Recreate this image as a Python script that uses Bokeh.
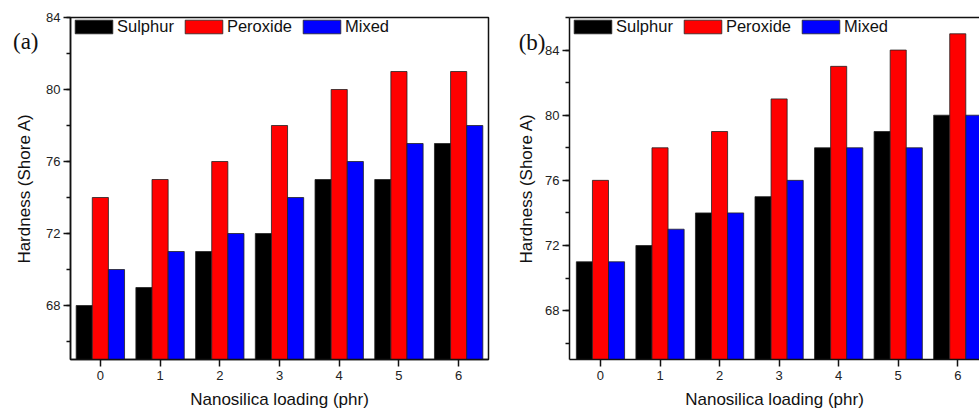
from bokeh.plotting import figure
from bokeh.layouts import row
from bokeh.models import (Range1d, FixedTicker, SingleIntervalTicker, Legend,
                          LegendItem, LinearAxis)
from bokeh.embed import file_html
from bokeh.resources import INLINE

# Nanosilica loading (phr)
loading = [0, 1, 2, 3, 4, 5, 6]

# (a) hardness, Shore A
sulphur_a = [68, 69, 71, 72, 75, 75, 77]
peroxide_a = [74, 75, 76, 78, 80, 81, 81]
mixed_a = [70, 71, 72, 74, 76, 77, 78]

# (b) hardness, Shore A
sulphur_b = [71, 72, 74, 75, 78, 79, 80]
peroxide_b = [76, 78, 79, 81, 83, 84, 85]
mixed_b = [71, 73, 74, 76, 78, 78, 80]

series_names = ["Sulphur", "Peroxide", "Mixed"]
series_colors = ["#000000", "#ff0000", "#0000ff"]

FONT = "Liberation Sans"
BAR_W = 0.27


def make_panel(width, border_left, border_right, x_rng, y_rng, data, tag,
               tag_y, tag_standoff, ylabel_standoff, full_box):
    p = figure(width=width, height=412, output_backend="svg",
               toolbar_location=None, x_range=Range1d(*x_rng),
               y_range=Range1d(*y_rng), min_border_left=border_left,
               min_border_right=border_right, min_border_top=17,
               min_border_bottom=53)
    p.background_fill_color = "white"
    p.border_fill_color = "white"
    p.xgrid.grid_line_color = None
    p.ygrid.grid_line_color = None
    p.outline_line_color = "#111111" if full_box else None
    p.outline_line_width = 1.5

    items = []
    for k, (vals, name, col) in enumerate(zip(data, series_names,
                                              series_colors)):
        xs = [x + (k - 1) * BAR_W for x in loading]
        r = p.vbar(x=xs, top=vals, bottom=y_rng[0], width=BAR_W,
                   fill_color=col, line_color="#222222", line_width=0.8)
        items.append(LegendItem(label=name, renderers=[r]))

    leg = Legend(items=items, location="top_left", orientation="horizontal",
                 border_line_color=None, background_fill_alpha=0,
                 glyph_width=47, glyph_height=17, label_standoff=0,
                 spacing=6, padding=0, margin=0,
                 label_text_font=FONT, label_text_font_size="16.5px",
                 label_text_color="#111111")
    p.add_layout(leg)

    p.xaxis.ticker = FixedTicker(ticks=loading)
    p.yaxis.ticker = SingleIntervalTicker(interval=4, num_minor_ticks=2)
    for ax in (p.xaxis, p.yaxis):
        ax.axis_line_width = 1.5
        ax.axis_line_color = "#111111"
        ax.major_tick_in = 0
        ax.major_tick_out = 7
        ax.major_tick_line_width = 1.5
        ax.major_tick_line_color = "#111111"
        ax.major_label_text_font = FONT
        ax.major_label_text_font_size = "13px"
        ax.major_label_text_color = "#222222"
        ax.axis_label_text_font = FONT
        ax.axis_label_text_font_size = "17px"
        ax.axis_label_text_font_style = "normal"
        ax.axis_label_text_color = "#111111"
    p.xaxis.minor_tick_line_color = None
    p.yaxis.minor_tick_in = 0
    p.yaxis.minor_tick_out = 4
    p.yaxis.minor_tick_line_width = 1.5
    p.yaxis.minor_tick_line_color = "#111111"
    p.xaxis.major_label_standoff = 4
    p.xaxis.axis_label_standoff = 7
    p.yaxis.major_label_standoff = 3
    p.xaxis.axis_label = "Nanosilica loading (phr)"

    # outer left axis: carries the panel tag as its only tick label and
    # the y-axis title
    outer = LinearAxis(axis_line_color=None, major_tick_line_color=None,
                       minor_tick_line_color=None,
                       ticker=FixedTicker(ticks=[tag_y]),
                       major_label_overrides={tag_y: tag},
                       major_label_standoff=tag_standoff,
                       major_label_text_font="Liberation Serif",
                       major_label_text_font_size="23px",
                       major_label_text_color="#111111",
                       axis_label="Hardness (Shore A)",
                       axis_label_standoff=ylabel_standoff,
                       axis_label_text_font=FONT,
                       axis_label_text_font_size="17px",
                       axis_label_text_font_style="normal",
                       axis_label_text_color="#111111")
    p.add_layout(outer, "left")

    if not full_box:
        top = LinearAxis(axis_line_width=1.5, axis_line_color="#111111",
                         major_tick_line_color=None,
                         minor_tick_line_color=None,
                         major_label_text_font_size="0px")
        top.ticker = FixedTicker(ticks=[])
        p.add_layout(top, "above")
    return p


pa = make_panel(500, 70, 12, (-0.5, 6.5), (65, 84),
                [sulphur_a, peroxide_a, mixed_a], "(a)", 82.67, -1, -24, True)
pb = make_panel(479, 69, 0, (-0.52, 6.365), (65, 86),
                [sulphur_b, peroxide_b, mixed_b], "(b)", 84.47, -9, -20, False)

layout = row(pa, pb)
open("out.html", "w").write(file_html(layout, INLINE))
